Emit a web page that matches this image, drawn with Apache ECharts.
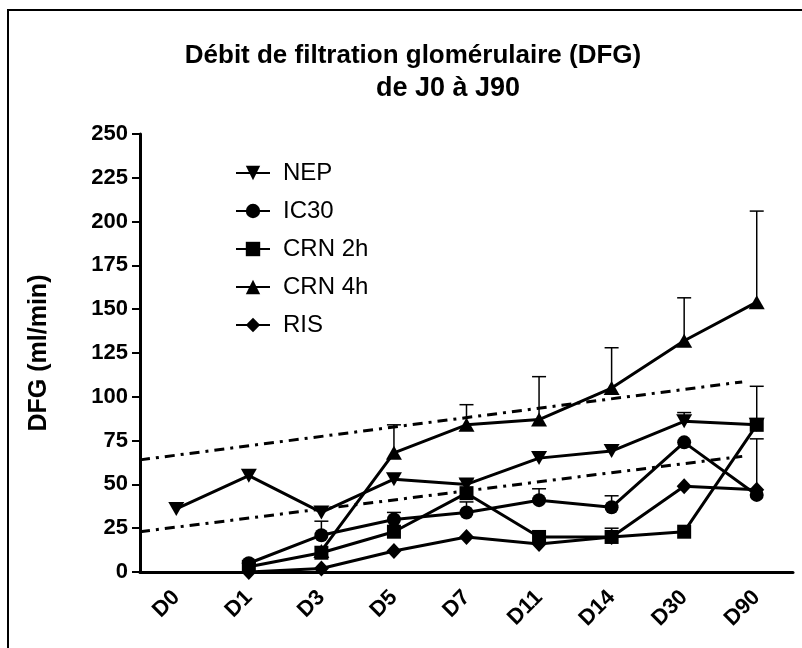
<!DOCTYPE html>
<html>
<head>
<meta charset="utf-8">
<style>
    html, body { margin: 0; padding: 0; background: #fff; }
    #chart { width: 802px; height: 648px; }
</style>
<script src="https://cdn.jsdelivr.net/npm/echarts@6/dist/echarts.min.js"></script>
</head>
<body>
<div id="chart"></div>
<script>
// jours de mesure
const days = ['D0', 'D1', 'D3', 'D5', 'D7', 'D11', 'D14', 'D30', 'D90'];
const yTicks = [0, 25, 50, 75, 100, 125, 150, 175, 200, 225, 250];

// moyennes DFG (ml/min)
const nep   = [36, 55, 34, 53, 50, 65, 69, 86, 84];
const ic30  = [null, 5, 21, 30, 34, 41, 37, 74, 44];
const crn2h = [null, 3, 11, 23, 45, 20, 20, 23, 84];
const crn4h = [null, null, 12, 68, 84, 87, 105, 132, 154];
const ris   = [null, 0, 2, 12, 20, 16, 20, 49, 47];

// haut des barres d'erreur
const nepErr   = [null, null, null, null, null, null, null, 91, null];
const ic30Err  = [null, null, 29, 34, 40, 47.5, 43.5, null, 76];
const crn2hErr = [null, null, null, null, 53, null, 25, null, 106];
const crn4hErr = [null, null, null, 84, 95.5, 111.5, 128, 156.5, 206];
const risErr   = [null, null, null, null, null, null, null, null, null];

// droites de tendance (position en index de jour, valeur)
const trendHigh = [[-0.5, 64], [7.8, 108.5]];
const trendLow  = [[-0.5, 23], [7.8, 66]];

const groups = [
    { name: 'NEP',    data: nep,   err: nepErr,   symbol: 'triangle', size: [16, 14], rotate: 180 },
    { name: 'IC30',   data: ic30,  err: ic30Err,  symbol: 'circle',   size: 14, rotate: 0 },
    { name: 'CRN 2h', data: crn2h, err: crn2hErr, symbol: 'rect',     size: 14, rotate: 0 },
    { name: 'CRN 4h', data: crn4h, err: crn4hErr, symbol: 'triangle', size: [16, 14], rotate: 0 },
    { name: 'RIS',    data: ris,   err: risErr,   symbol: 'diamond',  size: [15, 16], rotate: 0 }
];

const chart = echarts.init(document.getElementById('chart'));
const FONT = '"Liberation Sans", Arial, sans-serif';

function errorBars(g) {
    const pts = [];
    g.err.forEach((top, i) => {
        if (top != null && g.data[i] != null) pts.push([i, g.data[i], top]);
    });
    return {
        type: 'custom',
        name: g.name + ' err',
        xAxisIndex: 0,
        yAxisIndex: 0,
        z: 1,
        silent: true,
        data: pts,
        renderItem: function (params, api) {
            const lo = api.coord([api.value(0), api.value(1)]);
            const hi = api.coord([api.value(0), api.value(2)]);
            const style = { stroke: '#000', lineWidth: 1.5 };
            return {
                type: 'group',
                children: [
                    { type: 'line', shape: { x1: lo[0], y1: lo[1], x2: hi[0], y2: hi[1] }, style: style },
                    { type: 'line', shape: { x1: hi[0] - 7, y1: hi[1], x2: hi[0] + 7, y2: hi[1] }, style: style }
                ]
            };
        }
    };
}

const series = [];
groups.forEach(g => {
    series.push({
        name: g.name,
        type: 'line',
        data: g.data,
        xAxisIndex: 0,
        yAxisIndex: 0,
        z: 3,
        symbol: g.symbol,
        symbolSize: g.size,
        symbolRotate: g.rotate,
        showAllSymbol: true,
        connectNulls: false,
        lineStyle: { color: '#000', width: 3 },
        itemStyle: { color: '#000' }
    });
    series.push(errorBars(g));
});
[trendHigh, trendLow].forEach((t, k) => {
    series.push({
        name: 'trend' + k,
        type: 'line',
        xAxisIndex: 1,
        yAxisIndex: 0,
        data: t,
        symbol: 'none',
        z: 2,
        lineStyle: { color: '#000', width: 3, type: [10, 6, 3, 6] }
    });
});

const option = {
    backgroundColor: '#fff',
    animation: false,
    title: [
        {
            text: 'Débit de filtration glomérulaire (DFG)',
            left: 408, top: 38, textAlign: 'center',
            textStyle: { fontFamily: FONT, fontSize: 26, fontWeight: 'bold', color: '#000' }
        },
        {
            text: 'de J0 à J90',
            left: 443, top: 70, textAlign: 'center',
            textStyle: { fontFamily: FONT, fontSize: 27, fontWeight: 'bold', color: '#000' }
        }
    ],
    graphic: [
        {
            type: 'rect',
            shape: { x: 8, y: 10, width: 800, height: 645 },
            style: { fill: 'none', stroke: '#000', lineWidth: 2 },
            silent: true
        }
    ],
    legend: {
        orient: 'vertical',
        left: 230,
        top: 156,
        itemWidth: 34,
        itemHeight: 18,
        itemGap: 14,
        data: groups.map(g => g.name),
        textStyle: { fontFamily: FONT, fontSize: 24, color: '#000', lineHeight: 24, padding: [0, 0, 0, 8] }
    },
    grid: { left: 140, right: 9, top: 134, bottom: 76 },
    xAxis: [
        {
            type: 'category',
            data: days,
            boundaryGap: true,
            axisLine: { lineStyle: { color: '#000', width: 3 } },
            axisTick: { alignWithLabel: true, length: 8, lineStyle: { color: '#000', width: 2 } },
            axisLabel: {
                interval: 0, rotate: 45, margin: 22,
                fontFamily: FONT, fontSize: 22, fontWeight: 'bold', color: '#000'
            }
        },
        {
            type: 'value',
            min: -0.5, max: days.length - 0.5,
            show: false
        }
    ],
    yAxis: {
        type: 'value',
        min: yTicks[0],
        max: yTicks[yTicks.length - 1],
        interval: 25,
        name: 'DFG (ml/min)',
        nameLocation: 'middle',
        nameRotate: 90,
        nameGap: 88,
        nameTextStyle: { fontFamily: FONT, fontSize: 25, fontWeight: 'bold', color: '#000' },
        axisLine: { show: true, onZero: false, lineStyle: { color: '#000', width: 3 } },
        axisTick: { show: true, length: 8, lineStyle: { color: '#000', width: 2 } },
        splitLine: { show: false },
        axisLabel: { margin: 12, fontFamily: FONT, fontSize: 22, fontWeight: 'bold', color: '#000' }
    },
    series: series
};

chart.setOption(option);
window.addEventListener('resize', function () {
    chart.resize();
});
</script>
</body>
</html>
